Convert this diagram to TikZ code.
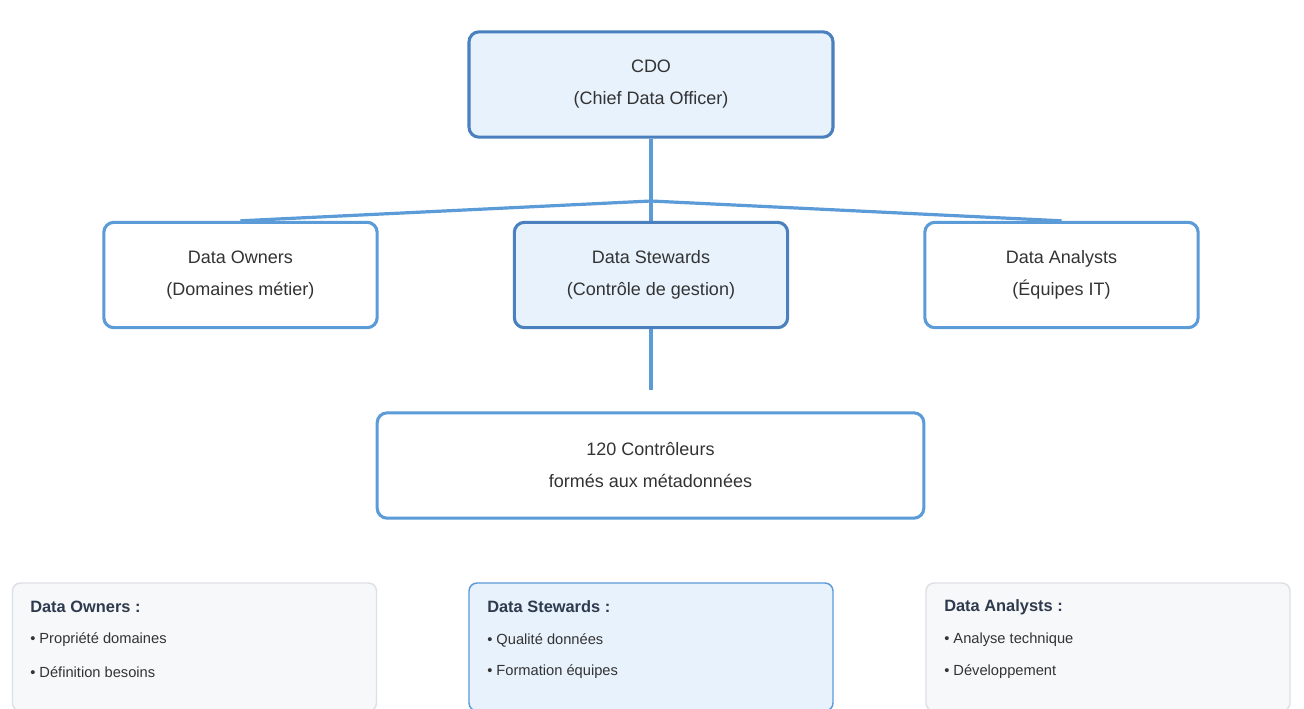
\documentclass[tikz,border=0pt]{standalone}
\usepackage{fontspec}
\setmainfont{Liberation Sans}
\usetikzlibrary{backgrounds}
\definecolor{edgeDark}{HTML}{4A80BE}
\definecolor{edgeLight}{HTML}{5B9BD8}
\definecolor{paleBlue}{HTML}{E8F2FC}
\definecolor{cardGrey}{HTML}{F7F8FA}
\definecolor{cardEdge}{HTML}{DDE0E4}
\definecolor{bodyText}{HTML}{333333}
\definecolor{headText}{HTML}{2E3B4E}
\tikzset{
  role/.style={draw=edgeLight, line width=2.3pt, rounded corners=7.5pt, fill=white,
    minimum width=205pt, minimum height=79pt, align=center, text=bodyText,
    font=\fontsize{13.5}{24}\selectfont},
  keyrole/.style={role, draw=edgeDark, fill=paleBlue},
  link/.style={draw=edgeLight, line width=2.4pt},
  card/.style={draw=cardEdge, line width=1.1pt, rounded corners=6pt, fill=cardGrey,
    minimum width=273pt, minimum height=96pt, inner sep=0pt},
  keycard/.style={card, draw=edgeLight, fill=paleBlue},
  cardhead/.style={anchor=west, inner sep=0pt, text=headText, font=\bfseries\fontsize{12.3}{14}\selectfont},
  carditem/.style={anchor=west, inner sep=0pt, text=bodyText, font=\fontsize{11}{13}\selectfont},
}
\begin{document}
\begin{tikzpicture}[x=0.75pt, y=-0.75pt]
\useasboundingbox (0,0) rectangle (1304,708);
\clip (0,0) rectangle (1304,708);

% hierarchy
\node[keyrole, minimum width=273pt] (cdo) at (651,84.5) {CDO\\(Chief Data Officer)};
\node[role] (owners) at (240.5,275) {Data Owners\\(Domaines métier)};
\node[keyrole] (stewards) at (651,275) {Data Stewards\\(Contrôle de gestion)};
\node[role] (analysts) at (1061.5,275) {Data Analysts\\(Équipes IT)};
\node[role, minimum width=410pt] (ctrl) at (650.5,465.5) {120 Contrôleurs\\formés aux métadonnées};

% connectors, kept behind the boxes
\coordinate (fork) at (651,201);
\coordinate (tail) at (651,390);
\begin{scope}[on background layer]
\fill[white] (0,0) rectangle (1304,708);
\draw[link] (cdo.south) -- (stewards.north);
\draw[link] (fork) -- (owners.north);
\draw[link] (fork) -- (analysts.north);
\draw[link] (stewards.south) -- (tail);
\end{scope}

% role descriptions
\node[card] (cardA) at (194.5,647) {};
\node[keycard] (cardB) at (651,647) {};
\node[card] (cardC) at (1108,647) {};

\node[cardhead] (hA) at (30,607) {Data Owners :};
\node[carditem] (a1) at (30,640) {• Propriété domaines};
\node[carditem] (a2) at (30,672) {• Définition besoins};

\node[cardhead] (hB) at (487,607) {Data Stewards :};
\node[carditem] (b1) at (487,640) {• Qualité données};
\node[carditem] (b2) at (487,672) {• Formation équipes};

\node[cardhead] (hC) at (944,607) {Data Analysts :};
\node[carditem] (c1) at (944,640) {• Analyse technique};
\node[carditem] (c2) at (944,672) {• Développement};
\end{tikzpicture}
\end{document}
